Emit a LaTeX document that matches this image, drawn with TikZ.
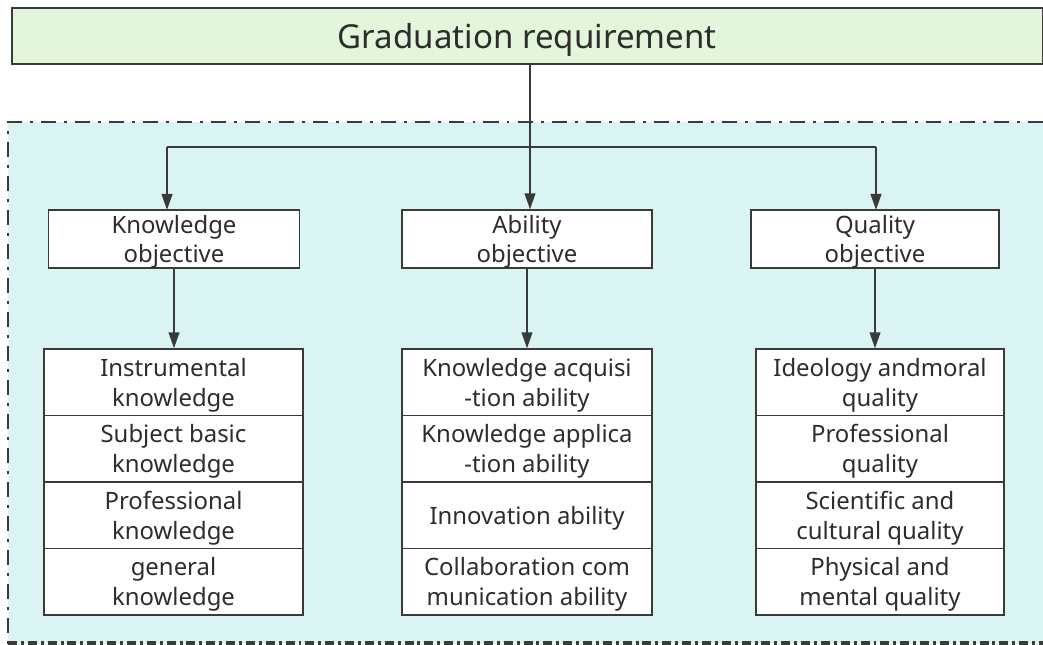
\documentclass[tikz,border=0pt]{standalone}
\usepackage{fontspec}
\setmainfont{Noto Sans}
\usetikzlibrary{arrows.meta}
\definecolor{linegray}{RGB}{58,58,58}
\definecolor{titlegreen}{RGB}{227,245,218}
\definecolor{areacyan}{RGB}{218,244,244}
\definecolor{textgray}{RGB}{45,45,45}
\newcommand\cellText[1]{\raisebox{0pt}[\dimexpr\height-1pt\relax][\dimexpr\depth-5.4pt\relax]{\begin{tabular}{@{}c@{}}#1\end{tabular}}}
\begin{document}
\begin{tikzpicture}[x=0.025cm, y=-0.025cm,
  line width=1pt, draw=linegray, text=textgray,
  titlebox/.style={draw, fill=titlegreen, minimum width=25.75cm, minimum height=1.4cm,
    inner sep=0pt, font=\fontsize{23.5}{28}\selectfont,
    execute at begin node={\rule{0pt}{23pt}}},
  objbox/.style={draw, fill=white, minimum height=1.45cm, inner sep=0pt,
    font=\fontsize{17}{21}\selectfont},
  itembox/.style={draw, fill=white, minimum height=1.6625cm, inner sep=0pt,
    font=\fontsize{17}{21}\selectfont},
  arr/.style={-{Triangle[length=0.4cm, width=0.27cm]}, line width=1.1pt, draw=linegray}]
\useasboundingbox (0,0) rectangle (1043,644);

\fill[areacyan] (8,122) rectangle (1043,644);
\draw[line width=1.1pt, dash pattern=on 10.7pt off 5.7pt on 2.1pt off 5.7pt] (1043,122) -- (8,122) -- (8,644);
\draw[line width=3pt, dash pattern=on 6.4pt off 2.8pt on 2.1pt off 2.8pt] (8,643.5) -- (1043,643.5);

\node (title) at (527.25,36) [titlebox] {Graduation requirement};

\node (ko) at (174,239) [objbox, minimum width=6.275cm] {\cellText{Knowledge\\objective}};
\node (ao) at (527,239) [objbox, minimum width=6.25cm] {\cellText{Ability\\objective}};
\node (qo) at (875,239) [objbox, minimum width=6.2cm] {\cellText{Quality\\objective}};

\node (k1) at (173.5,382.25) [itembox, minimum width=6.475cm] {\cellText{Instrumental\\knowledge}};
\node (k2) at (173.5,448.75) [itembox, minimum width=6.475cm] {\cellText{Subject basic\\knowledge}};
\node (k3) at (173.5,515.25) [itembox, minimum width=6.475cm] {\cellText{Professional\\knowledge}};
\node (k4) at (173.5,581.75) [itembox, minimum width=6.475cm] {\cellText{general\\knowledge}};

\node (a1) at (527,382.25) [itembox, minimum width=6.25cm] {\cellText{Knowledge acquisi\\-tion ability}};
\node (a2) at (527,448.75) [itembox, minimum width=6.25cm] {\cellText{Knowledge applica\\-tion ability}};
\node (a3) at (527,515.25) [itembox, minimum width=6.25cm] {\cellText{Innovation ability}};
\node (a4) at (527,581.75) [itembox, minimum width=6.25cm] {\cellText{Collaboration com\\munication ability}};

\node (q1) at (880,382.25) [itembox, minimum width=6.2cm] {\cellText{Ideology andmoral\\quality}};
\node (q2) at (880,448.75) [itembox, minimum width=6.2cm] {\cellText{Professional\\quality}};
\node (q3) at (880,515.25) [itembox, minimum width=6.2cm] {\cellText{Scientific and\\cultural quality}};
\node (q4) at (880,581.75) [itembox, minimum width=6.2cm] {\cellText{Physical and\\mental quality}};

\coordinate (hub) at (530,147);
\draw[arr] (title.south -| hub) -- (hub |- ao.north);
\draw[line width=1.1pt] (167,147) -- (876,147);
\draw[arr] (167,147) -- (167,210);
\draw[arr] (876,147) -- (876,210);

\draw[arr] (ko.south) -- (k1.north -| ko.south);
\draw[arr] (ao.south) -- (a1.north -| ao.south);
\draw[arr] (qo.south) -- (q1.north -| qo.south);
\end{tikzpicture}
\end{document}
